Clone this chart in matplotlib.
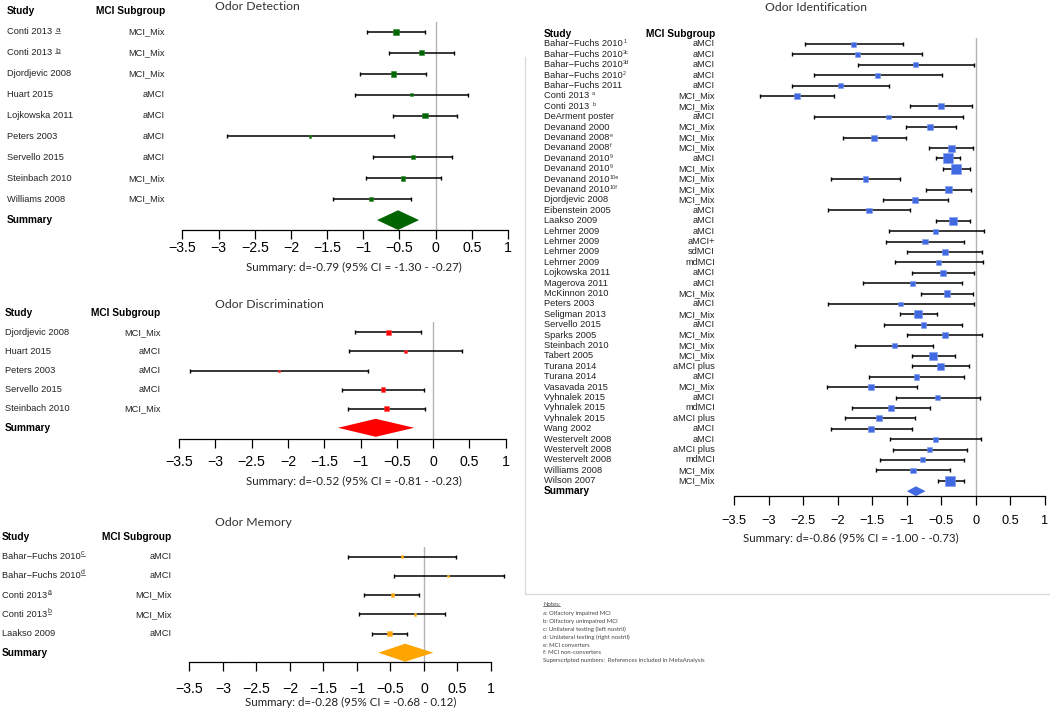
import matplotlib
matplotlib.use("Agg")
import matplotlib.pyplot as plt
from matplotlib.lines import Line2D
from matplotlib.patches import Polygon
from matplotlib.transforms import IdentityTransform, blended_transform_factory

W, H = 1050, 710
plt.rcParams["font.family"] = ["Liberation Sans", "DejaVu Sans"]
TITLE_FONT = ["Lato", "DejaVu Sans"]

# ---------------------------------------------------------------------------
# Data (effect size d with 95% CI, box weight)
# ---------------------------------------------------------------------------

det_study = ["Conti 2013", "Conti 2013", "Djordjevic 2008", "Huart 2015", "Lojkowska 2011",
             "Peters 2003", "Servello 2015", "Steinbach 2010", "Williams 2008"]
det_sup = [" a", " b", "", "", "", "", "", "", ""]
det_group = ["MCI_Mix", "MCI_Mix", "MCI_Mix", "aMCI", "aMCI", "aMCI", "aMCI", "MCI_Mix", "MCI_Mix"]
det_d = [-0.55, -0.20, -0.58, -0.34, -0.15, -1.74, -0.32, -0.45, -0.89]
det_lo = [-0.95, -0.64, -1.04, -1.11, -0.59, -2.89, -0.86, -0.97, -1.42]
det_hi = [-0.15, 0.25, -0.14, 0.45, 0.29, -0.58, 0.23, 0.08, -0.34]
det_w = [5.5, 5, 5.5, 3, 5.5, 2.5, 4, 4.5, 4]
det_summary = (-0.52, -0.81, -0.23)
det_note = "Summary: d=-0.79 (95% CI = -1.30 - -0.27)"

dis_study = ["Djordjevic 2008", "Huart 2015", "Peters 2003", "Servello 2015", "Steinbach 2010"]
dis_sup = ["", "", "", "", ""]
dis_group = ["MCI_Mix", "aMCI", "aMCI", "aMCI", "MCI_Mix"]
dis_d = [-0.62, -0.38, -2.12, -0.69, -0.64]
dis_lo = [-1.07, -1.16, -3.35, -1.25, -1.17]
dis_hi = [-0.17, 0.40, -0.89, -0.13, -0.11]
dis_w = [5, 3, 2, 4.5, 4.5]
dis_summary = (-0.79, -1.31, -0.26)
dis_note = "Summary: d=-0.52 (95% CI = -0.81 - -0.23)"

mem_study = ["Bahar\u2212Fuchs 2010", "Bahar\u2212Fuchs 2010", "Conti 2013", "Conti 2013", "Laakso 2009"]
mem_sup = ["c", "d", "a", "b", ""]
mem_group = ["aMCI", "aMCI", "MCI_Mix", "MCI_Mix", "aMCI"]
mem_d = [-0.33, 0.36, -0.47, -0.13, -0.52]
mem_lo = [-1.14, -0.45, -0.89, -0.97, -0.78]
mem_hi = [0.48, 1.19, -0.07, 0.31, -0.26]
mem_w = [2.5, 2.5, 3.5, 2.5, 5]
mem_summary = (-0.28, -0.68, 0.14)
mem_note = "Summary: d=-0.28 (95% CI = -0.68 - 0.12)"

BF = "Bahar\u2212Fuchs"
ide_study = [f"{BF} 2010", f"{BF} 2010", f"{BF} 2010", f"{BF} 2010", f"{BF} 2011",
             "Conti 2013", "Conti 2013", "DeArment poster", "Devanand 2000", "Devanand 2008",
             "Devanand 2008", "Devanand 2010", "Devanand 2010", "Devanand 2010", "Devanand 2010",
             "Djordjevic 2008", "Eibenstein 2005", "Laakso 2009", "Lehrner 2009", "Lehrner 2009",
             "Lehrner 2009", "Lehrner 2009", "Lojkowska 2011", "Magerova 2011", "McKinnon 2010",
             "Peters 2003", "Seligman 2013", "Servello 2015", "Sparks 2005", "Steinbach 2010",
             "Tabert 2005", "Turana 2014", "Turana 2014", "Vasavada 2015", "Vyhnalek 2015",
             "Vyhnalek 2015", "Vyhnalek 2015", "Wang 2002", "Westervelt 2008", "Westervelt 2008",
             "Westervelt 2008", "Williams 2008", "Wilson 2007"]
ide_sup = ["1", "3c", "3d", "2", "", " a", " b", "", "", "e", "f", "9", "9", "10e", "10f"] + [""] * 28
ide_group = ["aMCI", "aMCI", "aMCI", "aMCI", "aMCI", "MCI_Mix", "MCI_Mix", "aMCI", "MCI_Mix",
             "MCI_Mix", "MCI_Mix", "aMCI", "MCI_Mix", "MCI_Mix", "MCI_Mix", "MCI_Mix", "aMCI",
             "aMCI", "aMCI", "aMCI+", "sdMCI", "mdMCI", "aMCI", "aMCI", "MCI_Mix", "aMCI",
             "MCI_Mix", "aMCI", "MCI_Mix", "MCI_Mix", "MCI_Mix", "aMCI plus", "aMCI", "MCI_Mix",
             "aMCI", "mdMCI", "aMCI plus", "aMCI", "aMCI", "aMCI plus", "mdMCI", "MCI_Mix", "MCI_Mix"]
ide_d = [-1.77, -1.72, -0.87, -1.42, -1.96, -2.59, -0.51, -1.27, -0.66, -1.47,
         -0.36, -0.41, -0.29, -1.60, -0.40, -0.88, -1.55, -0.33, -0.58, -0.74,
         -0.45, -0.54, -0.48, -0.92, -0.42, -1.09, -0.84, -0.76, -0.45, -1.18,
         -0.62, -0.51, -0.86, -1.52, -0.56, -1.23, -1.40, -1.52, -0.58, -0.67,
         -0.78, -0.91, -0.37]
ide_lo = [-2.48, -2.67, -1.71, -2.34, -2.66, -3.13, -0.96, -2.34, -1.02, -1.92,
          -0.68, -0.58, -0.48, -2.10, -0.73, -1.34, -2.14, -0.58, -1.26, -1.31,
          -1.00, -1.17, -0.93, -1.64, -0.80, -2.14, -1.10, -1.33, -1.00, -1.75,
          -0.93, -0.92, -1.55, -2.16, -1.16, -1.79, -1.90, -2.10, -1.24, -1.20,
          -1.39, -1.45, -0.55]
ide_hi = [-1.06, -0.78, -0.03, -0.49, -1.26, -2.05, -0.06, -0.19, -0.29, -1.01,
          -0.04, -0.23, -0.09, -1.10, -0.07, -0.41, -0.96, -0.08, 0.11, -0.18,
          0.09, 0.10, -0.03, -0.20, -0.05, -0.03, -0.57, -0.20, 0.09, -0.62,
          -0.31, -0.10, -0.17, -0.86, 0.06, -0.67, -0.88, -0.93, 0.07, -0.13,
          -0.17, -0.37, -0.18]
ide_w = [5, 5, 5, 5, 5, 5.5, 6, 4.5, 6, 6, 7, 10, 10, 5.5, 7, 6, 5.5, 8, 5, 5.5,
         6, 5.5, 6, 5, 6.5, 4.5, 8, 5.5, 6, 5.5, 7.5, 6.5, 5.5, 5.5, 5.5, 6, 6, 5.5, 5, 5.5,
         5, 5.5, 10]
ide_summary = (-0.87, -1.00, -0.73)
ide_note = "Summary: d=-0.86 (95% CI = -1.00 - -0.73)"

notes = ["a: Olfactory impaired MCI", "b: Olfactory unimpaired MCI",
         "c: Unilateral testing (left nostril)", "d: Unilateral testing (right nostril)",
         "e: MCI converters", "f: MCI non-converters",
         "Superscripted numbers:  References included in MetaAnalysis"]

ticks = [-3.5, -3, -2.5, -2, -1.5, -1, -0.5, 0, 0.5, 1]

fig = plt.figure(figsize=(W / 100, H / 100), dpi=100)
underlined = []


def fx(px):
    return px / W


def fy(py):
    return 1 - py / H


def panel(lay, title, study, sup, group, d, lo, hi, w, summary, note, color, edge):
    x0, x1, top, spine, row0, step = lay["axis"]
    ax = fig.add_axes([fx(x0), fy(spine), (x1 - x0) / W, (spine - top) / H])
    n = len(study)
    rows = list(range(n))
    ax.set_xlim(-3.5, 1)
    ax.set_ylim((spine - row0) / step, (top - row0) / step)
    ax.axvline(0, color="#b3b3b3", lw=1.0, zorder=0)

    ax.hlines(rows, lo, hi, color="black", lw=1.1, clip_on=False)
    ax.plot(lo, rows, ls="none", marker="|", ms=3, mew=1, color="black", clip_on=False)
    ax.plot(hi, rows, ls="none", marker="|", ms=3, mew=1, color="black", clip_on=False)
    ax.scatter(d, rows, s=[(k * 0.72) ** 2 for k in w], marker="s", color=color,
               edgecolor=edge, linewidths=0.4, zorder=3, clip_on=False)

    ds, dl, dh = summary
    h = 0.47
    ax.add_patch(Polygon([(dl, n), (ds, n - h), (dh, n), (ds, n + h)], closed=True,
                         facecolor=color, edgecolor="none", clip_on=False))

    for s in ["left", "right", "top"]:
        ax.spines[s].set_visible(False)
    ax.spines["bottom"].set_linewidth(0.9)
    ax.set_yticks([])
    ax.set_xticks(ticks)
    ax.set_xticklabels([f"{t:g}".replace("-", "\u2212") for t in ticks])
    ax.tick_params(axis="x", length=6.5, width=0.9, pad=lay["pad"], labelsize=lay["tsize"])

    tr = blended_transform_factory(fig.transFigure, ax.transData)
    sx, gx = lay["cols"]
    fs = 6.7
    ax.text(fx(sx), -1, "Study", transform=tr, fontsize=fs + 0.6, fontweight="bold",
            va="center", ha="left")
    ax.text(fx(gx), -1, "MCI Subgroup", transform=tr, fontsize=fs + 0.6, fontweight="bold",
            va="center", ha="right")
    ax.text(fx(sx), n, "Summary", transform=tr, fontsize=fs + 0.6, fontweight="bold",
            va="center", ha="left")
    for i in rows:
        t = ax.text(fx(sx), i, study[i], transform=tr, fontsize=fs, va="center", ha="left",
                    color="#222222")
        ax.text(fx(gx), i, group[i], transform=tr, fontsize=fs, va="center", ha="right",
                color="#222222")
        if sup[i]:
            gap = 2.2 if sup[i].startswith(" ") else 0.3
            a = ax.annotate(sup[i].strip(), xy=(1, lay["sraise"]), xycoords=t,
                            xytext=(gap, 0), textcoords="offset points",
                            fontsize=lay["ssize"], va="bottom", ha="left", color="#333333")
            if lay["uline"]:
                underlined.append(a)

    tx, ty = lay["title"]
    fig.text(fx(tx), fy(ty), title, family=TITLE_FONT, fontsize=8.8, color="#333333",
             va="center", ha="left")
    nx, ny = lay["note"]
    fig.text(fx(nx), fy(ny), note, family=TITLE_FONT, fontsize=8.3, color="#222222",
             va="center", ha="center")
    return ax


det_lay = dict(axis=(182.5, 508, 21.7, 229.5, 32, 20.9), pad=2, tsize=10.2,
               cols=(7, 165), title=(215, 7), note=(354, 267), ssize=6, sraise=0.3, uline=True)
dis_lay = dict(axis=(179, 505.7, 321.7, 439, 332.3, 19.1), pad=5, tsize=10.2,
               cols=(5, 160.7), title=(215, 304), note=(354, 481.7), ssize=5, sraise=0.45,
               uline=True)
mem_lay = dict(axis=(189.3, 491, 546.7, 662.3, 556.7, 19.2), pad=7.5, tsize=10.2,
               cols=(2, 171.7), title=(215, 523), note=(351, 702), ssize=5, sraise=0.45,
               uline=True)
ide_lay = dict(axis=(734.3, 1045, 38, 496, 44, 10.4), pad=7.5, tsize=9.2,
               cols=(544, 715), title=(765, 7.3), note=(850.7, 538.3), ssize=4, sraise=0.45,
               uline=False)

panel(det_lay, "Odor Detection", det_study, det_sup, det_group, det_d, det_lo, det_hi,
      det_w, det_summary, det_note, "#006400", "#2e8b2e")
panel(dis_lay, "Odor Discrimination", dis_study, dis_sup, dis_group, dis_d, dis_lo, dis_hi,
      dis_w, dis_summary, dis_note, "#ff0000", "#ff5050")
panel(mem_lay, "Odor Memory", mem_study, mem_sup, mem_group, mem_d, mem_lo, mem_hi,
      mem_w, mem_summary, mem_note, "#ffa500", "#ffc04d")
panel(ide_lay, "Odor Identification", ide_study, ide_sup, ide_group, ide_d, ide_lo, ide_hi,
      ide_w, ide_summary, ide_note, "#4169e1", "#7d9bf0")

# divider lines
fig.add_artist(Line2D([fx(525), fx(525)], [fy(57), fy(594)], color="#dcdcdc", lw=1))
fig.add_artist(Line2D([fx(525), fx(1050)], [fy(594), fy(594)], color="#dcdcdc", lw=1))

# notes block
nt = fig.text(fx(543), fy(605), "Notes:", family=TITLE_FONT, fontsize=4.3, color="#444444",
              va="center", ha="left")
underlined.append(nt)
for k, line in enumerate(notes):
    fig.text(fx(543), fy(613.5 + 7.9 * k), line, family=TITLE_FONT, fontsize=4.3,
             color="#444444", va="center", ha="left")

fig.canvas.draw()
renderer = fig.canvas.get_renderer()
for t in underlined:
    bb = t.get_window_extent(renderer)
    yb = bb.y0 + 1.2
    fig.add_artist(Line2D([bb.x0, bb.x1], [yb, yb], transform=IdentityTransform(),
                          color=t.get_color(), lw=0.5))

fig.savefig("out.png", dpi=100, facecolor="white")
